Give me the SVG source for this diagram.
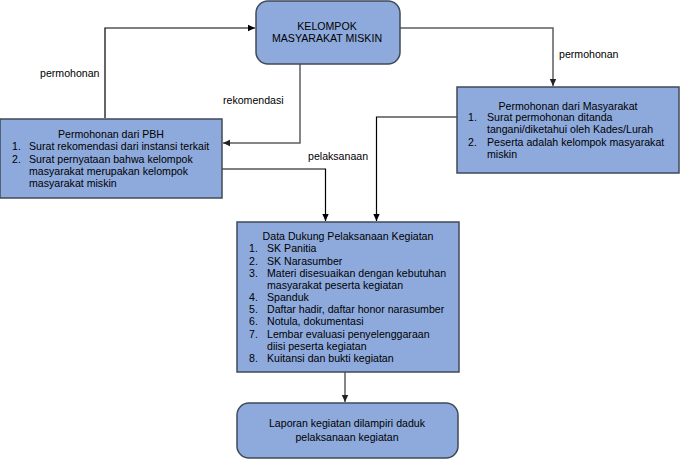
<svg xmlns="http://www.w3.org/2000/svg" width="682" height="462" viewBox="0 0 682 462">
<style>
.box{fill:#8eaadc;stroke:#3f4a57;stroke-width:1.5}
text{font-family:"Liberation Sans",Arial,sans-serif;font-size:10.6px;fill:#000}
.c{text-anchor:middle}
.ln{fill:none;stroke:#000;stroke-width:1.2}
.lg{fill:none;stroke:#5e5e5e;stroke-width:1.5}
</style>
<defs>
<marker id="ah" markerWidth="8" markerHeight="8" refX="7" refY="4" orient="auto" markerUnits="userSpaceOnUse">
<path d="M0,0.8 L7,4 L0,7.2 Z" fill="#000"/>
</marker>
<marker id="ahg" markerWidth="8" markerHeight="8" refX="7" refY="4" orient="auto" markerUnits="userSpaceOnUse">
<path d="M0,0.8 L7,4 L0,7.2 Z" fill="#222"/>
</marker>
</defs>
<g id="connectors">
<path class="ln" d="M105,118 V28 H255" marker-end="url(#ah)"/>
<path class="lg" d="M300,64 V143 H223" marker-end="url(#ahg)"/>
<path class="ln" d="M222,169 H325.5 V221" marker-end="url(#ah)"/>
<path class="lg" d="M400,28 H553 V86" marker-end="url(#ahg)"/>
<path class="ln" d="M457,117 H376.5 V221" marker-end="url(#ah)"/>
<path class="lg" d="M345,372 V402" marker-end="url(#ahg)"/>
<text x="40" y="77">permohonan</text>
<text x="223" y="104">rekomendasi</text>
<text x="308" y="160">pelaksanaan</text>
<text x="559" y="58">permohonan</text>
</g>
<g id="kelompok">
<rect class="box" x="256" y="1" width="144" height="63" rx="12"/>
<text class="c" x="327" y="30">KELOMPOK</text>
<text class="c" x="327" y="42">MASYARAKAT MISKIN</text>
</g>
<g id="pbh">
<rect class="box" x="0" y="119" width="222" height="79"/>
<text class="c" x="111" y="138">Permohonan dari PBH</text>
<text x="12" y="150">1.</text><text x="29" y="150">Surat rekomendasi dari instansi terkait</text>
<text x="12" y="163">2.</text><text x="29" y="163">Surat pernyataan bahwa kelompok</text>
<text x="29" y="175">masyarakat merupakan kelompok</text>
<text x="29" y="187">masyarakat miskin</text>
</g>
<g id="masyarakat">
<rect class="box" x="457" y="87" width="222" height="86"/>
<text class="c" x="568" y="110">Permohonan dari Masyarakat</text>
<text x="468" y="121">1.</text><text x="487" y="121">Surat permohonan ditanda</text>
<text x="487" y="133">tangani/diketahui oleh Kades/Lurah</text>
<text x="468" y="146">2.</text><text x="487" y="146">Peserta adalah kelompok masyarakat</text>
<text x="487" y="158">miskin</text>
</g>
<g id="datadukung">
<rect class="box" x="237" y="222" width="222" height="150"/>
<text class="c" x="348" y="240">Data Dukung Pelaksanaan Kegiatan</text>
<text x="249" y="252">1.</text><text x="267" y="252">SK Panitia</text>
<text x="249" y="265">2.</text><text x="267" y="265">SK Narasumber</text>
<text x="249" y="277">3.</text><text x="267" y="277">Materi disesuaikan dengan kebutuhan</text>
<text x="267" y="289">masyarakat peserta kegiatan</text>
<text x="249" y="301">4.</text><text x="267" y="301">Spanduk</text>
<text x="249" y="313">5.</text><text x="267" y="313">Daftar hadir, daftar honor narasumber</text>
<text x="249" y="325">6.</text><text x="267" y="325">Notula, dokumentasi</text>
<text x="249" y="338">7.</text><text x="267" y="338">Lembar evaluasi penyelenggaraan</text>
<text x="267" y="350">diisi peserta kegiatan</text>
<text x="249" y="362">8.</text><text x="267" y="362">Kuitansi dan bukti kegiatan</text>
</g>
<g id="laporan">
<rect class="box" x="237" y="403" width="221" height="55" rx="12"/>
<text class="c" x="347" y="427">Laporan kegiatan dilampiri daduk</text>
<text class="c" x="347" y="441">pelaksanaan kegiatan</text>
</g>
</svg>
